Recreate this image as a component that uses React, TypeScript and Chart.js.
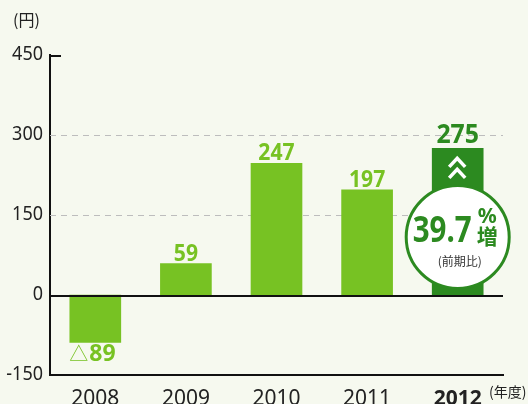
import React, { useEffect, useRef } from "react";
import { Chart, registerables } from "chart.js";

Chart.register(...registerables);

const years = ["2008", "2009", "2010", "2011", "2012"];
const values = [-89, 59, 247, 197, 275];
const valueLabels = ["△89", "59", "247", "197", "275"];
const yTicks = [-150, 0, 150, 300, 450];
const growthText = "39.7";
const yUnit = "(円)";
const xUnit = "(年度)";

const LIGHT = "#77c223";
const DARK = "#2c8a20";
const BG = "#f6f9ef";
const JP = '"Noto Sans CJK JP", "Noto Sans", sans-serif';

function fitText(ctx: CanvasRenderingContext2D, text: string, x: number, y: number, width: number) {
  const w = ctx.measureText(text).width;
  const sx = width / w;
  ctx.save();
  ctx.translate(x, y);
  ctx.scale(sx, 1);
  ctx.fillText(text, 0, 0);
  ctx.restore();
}

const decor = {
  id: "decor",
  beforeDatasetsDraw(chart: any) {
    const { ctx, chartArea, scales } = chart;
    const y = scales.y;
    ctx.save();
    ctx.strokeStyle = "#bdbdbd";
    ctx.lineWidth = 1;
    ctx.setLineDash([6, 5]);
    [150, 300].forEach((v) => {
      const py = Math.round(y.getPixelForValue(v)) + 0.5;
      ctx.beginPath();
      ctx.moveTo(chartArea.left, py);
      ctx.lineTo(chartArea.right, py);
      ctx.stroke();
    });
    ctx.setLineDash([]);
    ctx.strokeStyle = "#111";
    ctx.lineWidth = 2;
    const pt = Math.round(y.getPixelForValue(450)) + 1;
    ctx.beginPath();
    ctx.moveTo(chartArea.left, pt);
    ctx.lineTo(chartArea.left + 11, pt);
    ctx.stroke();

    // y tick labels
    ctx.fillStyle = "#222";
    ctx.font = `20px "Noto Sans", sans-serif`;
    ctx.textAlign = "left";
    ctx.textBaseline = "middle";
    yTicks.forEach((v) => {
      const s = String(v);
      const w = ctx.measureText(s).width * 0.9;
      fitText(ctx, s, chartArea.left - 7 - w, y.getPixelForValue(v) - 1, w);
    });
    ctx.restore();
  },
  afterDatasetsDraw(chart: any) {
    const { ctx, chartArea, scales } = chart;
    const y = scales.y;
    const meta = chart.getDatasetMeta(0);
    ctx.save();
    // zero line
    const zy = Math.round(y.getPixelForValue(0)) + 1;
    ctx.strokeStyle = "#111";
    ctx.lineWidth = 2;
    ctx.beginPath();
    ctx.moveTo(chartArea.left, zy);
    ctx.lineTo(chartArea.right, zy);
    ctx.stroke();

    // value labels
    meta.data.forEach((bar: any, i: number) => {
      const v = values[i];
      const last = i === values.length - 1;
      ctx.fillStyle = last ? DARK : LIGHT;
      ctx.font = `bold ${last ? 27 : 23}px "Noto Sans", sans-serif`;
      ctx.textAlign = "left";
      if (v >= 0) {
        ctx.textBaseline = "alphabetic";
        const w = ctx.measureText(valueLabels[i]).width * 0.92;
        fitText(ctx, valueLabels[i], bar.x - w / 2, bar.y - (last ? 5 : 3), w);
      } else {
        ctx.textBaseline = "alphabetic";
        ctx.font = `19px ${JP}`;
        ctx.fillText(valueLabels[i].slice(0, 1), bar.x - 26, bar.y + 19);
        ctx.font = `bold 23px "Noto Sans", sans-serif`;
        ctx.fillText(valueLabels[i].slice(1), bar.x - 6, bar.y + 19);
      }
    });

    // chevrons on last bar
    const lb = meta.data[meta.data.length - 1];
    ctx.strokeStyle = "#fff";
    ctx.lineWidth = 3.5;
    ctx.lineCap = "butt";
    ctx.lineJoin = "miter";
    [10, 21].forEach((off) => {
      const ay = lb.y + off;
      ctx.beginPath();
      ctx.moveTo(lb.x - 8.5, ay + 8.5);
      ctx.lineTo(lb.x - 0.5, ay);
      ctx.lineTo(lb.x + 7.5, ay + 8.5);
      ctx.stroke();
    });

    // circle
    const cx = lb.x;
    const cy = y.getPixelForValue(0) - 58;
    ctx.beginPath();
    ctx.arc(cx, cy, 51.5, 0, Math.PI * 2);
    ctx.fillStyle = "#fff";
    ctx.fill();
    ctx.lineWidth = 3;
    ctx.strokeStyle = DARK;
    ctx.stroke();

    ctx.fillStyle = DARK;
    ctx.textAlign = "left";
    ctx.textBaseline = "alphabetic";
    ctx.font = `bold 36px "Noto Sans", sans-serif`;
    fitText(ctx, growthText, cx - 45, cy + 5, 59);
    ctx.font = `bold 22px "Noto Sans", sans-serif`;
    fitText(ctx, "%", cx + 20, cy - 14, 19);
    ctx.font = `bold 21px ${JP}`;
    ctx.textBaseline = "middle";
    ctx.fillText("増", cx + 19, cy - 1);
    ctx.fillStyle = "#333";
    ctx.font = `12px ${JP}`;
    ctx.textAlign = "center";
    ctx.fillText("(前期比)", cx + 2, cy + 24);

    // units
    ctx.fillStyle = "#222";
    ctx.font = `16px ${JP}`;
    ctx.textAlign = "left";
    ctx.textBaseline = "middle";
    ctx.fillText(yUnit, 13, 20);
    ctx.font = `14px ${JP}`;
    ctx.fillText(xUnit, 489, 392);
    ctx.restore();
  },
};

export default function App() {
  const ref = useRef<HTMLCanvasElement>(null);
  useEffect(() => {
    const chart = new Chart(ref.current!, {
      type: "bar",
      data: {
        labels: years,
        datasets: [
          {
            data: values,
            backgroundColor: values.map((_, i) => (i === values.length - 1 ? DARK : LIGHT)),
            barThickness: 51,
          },
        ],
      },
      options: {
        animation: false,
        responsive: false,
        events: [],
        layout: { padding: { top: 55, right: 25, left: 0, bottom: 0 } },
        plugins: { legend: { display: false }, tooltip: { enabled: false } },
        scales: {
          x: {
            grid: { display: false },
            border: { display: true, color: "#111", width: 2 },
            ticks: {
              color: "#222",
              padding: 3,
              font: (c: any) => ({
                family: '"Noto Sans", sans-serif',
                size: 21,
                weight: c.index === years.length - 1 ? "bold" : "normal",
              }),
            },
            afterFit: (s: any) => {
              s.height = 29;
            },
          },
          y: {
            min: yTicks[0],
            max: yTicks[yTicks.length - 1],
            afterBuildTicks: (s: any) => {
              s.ticks = yTicks.map((v) => ({ value: v }));
            },
            grid: { display: false },
            border: { display: true, color: "#111", width: 2 },
            ticks: { display: false },
            afterFit: (s: any) => {
              s.width = 50;
            },
          },
        },
      },
      plugins: [decor],
    } as any);
    return () => chart.destroy();
  }, []);
  return (
    <div style={{ position: "fixed", left: 0, top: 0, width: 528, height: 404, background: BG }}>
      <canvas ref={ref} width={528} height={404} style={{ display: "block" }} />
    </div>
  );
}
